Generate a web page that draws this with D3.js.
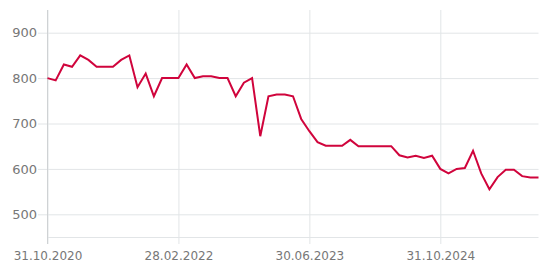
<!DOCTYPE html>
<html>
<head>
<meta charset="utf-8">
<script src="https://cdn.jsdelivr.net/npm/d3@7"></script>
<style>
  body { margin: 0; background: #fff; }
  svg text { font-family: "DejaVu Sans", sans-serif; fill: #777; }
</style>
</head>
<body>
<svg id="chart" width="547" height="268"></svg>
<script>
// monthly values, 31.10.2020 .. 31.10.2025
const values = [
    800, 795, 830, 825, 850, 840, 825, 825, 825, 840,
    850, 780, 810, 760, 800, 800, 800, 830, 800, 804,
    804, 800, 800, 760, 790, 800, 672, 760, 764, 764,
    760, 710, 683, 659, 651, 651, 651, 664, 650, 650,
    650, 650, 650, 630, 625, 629, 624, 629, 600, 590,
    600, 602, 640, 590, 555, 582, 598, 598, 584, 581,
    581
];
const yTicks = [500, 600, 700, 800, 900];
const xTickLabels = ["31.10.2020", "28.02.2022", "30.06.2023", "31.10.2024"];

const fmt = d3.timeFormat("%d.%m.%Y");
let start = new Date(2020, 9, 1);
let months = d3.timeMonth.range(start, d3.timeMonth.offset(start, values.length));
let categories = months.map(m => fmt(d3.timeDay.offset(d3.timeMonth.offset(m, 1), -1)));

let svg = d3.select("#chart");
let mLeft = 47.5, mRight = 538.5, mTop = 10, mBottom = 237;

let x = d3.scalePoint().domain(categories).range([mLeft, mRight]);
let y = d3.scaleLinear().domain([450, 950]).range([mBottom, mTop]);

// horizontal grid + y labels
let gy = svg.append("g")
    .attr("transform", "translate(" + mRight + ",0)")
    .call(d3.axisLeft(y).tickValues(yTicks).tickSize(mRight - 38).tickPadding(1));
gy.select(".domain").remove();
gy.selectAll(".tick line").attr("stroke", "#e2e5e7");
gy.selectAll(".tick text").style("font-size", "13px");

// vertical grid + x labels
let gx = svg.append("g")
    .attr("transform", "translate(0," + mBottom + ")")
    .call(d3.axisBottom(x).tickValues(xTickLabels).tickSize(7).tickPadding(0));
gx.select(".domain").remove();
gx.selectAll(".tick line").attr("stroke", "#e2e5e7").attr("y1", -(mBottom - mTop));
gx.selectAll(".tick text").style("font-size", "12px").attr("y", 14);

// baseline and left axis
svg.append("line")
    .attr("x1", mLeft).attr("x2", mRight)
    .attr("y1", mBottom + 0.5).attr("y2", mBottom + 0.5)
    .attr("stroke", "#e2e5e7");
svg.append("line")
    .attr("x1", mLeft).attr("x2", mLeft)
    .attr("y1", mTop).attr("y2", mBottom + 7)
    .attr("stroke", "#cfd2d4");

// the series
let line = d3.line()
    .x((d, i) => x(categories[i]))
    .y(d => y(d));

svg.append("path")
    .datum(values)
    .attr("d", line)
    .attr("fill", "none")
    .attr("stroke", "#d0043c")
    .attr("stroke-width", 2);
</script>
</body>
</html>
